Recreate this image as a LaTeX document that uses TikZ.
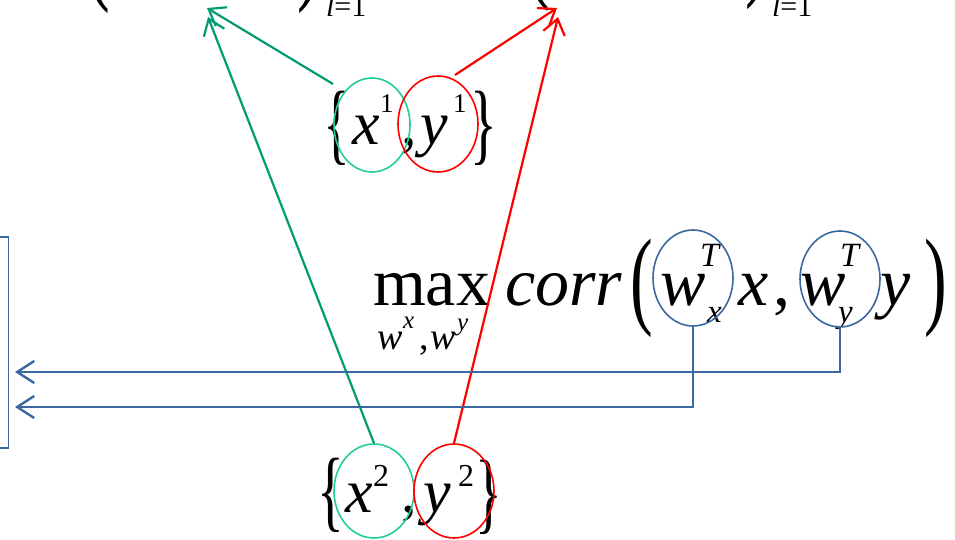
\documentclass[tikz,border=0pt]{standalone}
\usepackage{fontspec}
\setmainfont{Liberation Serif}
\usetikzlibrary{shapes.geometric,arrows.meta}
\definecolor{arrgreen}{RGB}{0,155,115}
\definecolor{ellgreen}{RGB}{35,205,150}
\definecolor{myred}{RGB}{255,0,0}
\definecolor{myblue}{RGB}{58,105,160}
\newcommand{\fs}[1]{\fontsize{#1}{#1}\selectfont}
\begin{document}
\begin{tikzpicture}[x=1pt,y=-1pt,
  txt/.style={inner sep=0pt, outer sep=0pt, anchor=base west},
  ell/.style={ellipse, draw, inner sep=0pt, line width=1.6pt},
  tipstyle/.style={-{Straight Barb[length=15pt,width=22pt]}},
  garrow/.style={draw=arrgreen, line width=2.2pt, tipstyle},
  rarrow/.style={draw=myred, line width=2.2pt, tipstyle},
  barrow/.style={draw=myblue, line width=2.4pt, -{Straight Barb[length=17pt,width=22pt]}}]
\useasboundingbox (0,0) rectangle (955,540);

% cropped formulas at the top edge
\node[txt, anchor=south, font=\fs{68}] (tl1) at (99,14) {\scalebox{1}[1.6]{(}};
\node[txt, anchor=south, font=\fs{68}] (tr1) at (309,14) {\scalebox{1}[1.6]{)}};
\node[txt, font=\fs{30}] (ts1) at (326,17) {\textit{l}=1};
\node[txt, anchor=south, font=\fs{68}] (tl2) at (539,12) {\scalebox{1}[1.6]{(}};
\node[txt, anchor=south, font=\fs{68}] (tr2) at (757,10) {\scalebox{1}[1.6]{)}};
\node[txt, font=\fs{30}] (ts2) at (772,17) {\textit{l}=1};

% left box
\node[draw=myblue, line width=1.5pt, minimum width=120pt, minimum height=211pt, anchor=north east, inner sep=0pt] (box) at (9,236) {};
\node[txt, anchor=base east, font=\fs{58}] (colon) at (4,304) {:};

% top pair
\node[txt, anchor=center, font=\fs{62}] (lb1) at (337,128) {\scalebox{0.9}[1.45]{\{}};
\node[txt, font={\fs{62}\itshape}] (x1) at (352,145) {x};
\node[txt, font=\fs{27}] (x1s) at (380,113) {1};
\node[txt, font=\fs{62}] (c1) at (401,145) {,};
\node[txt, font={\fs{62}\itshape}] (y1) at (420,145) {y};
\node[txt, font=\fs{27}] (y1s) at (453,113) {1};
\node[txt, anchor=center, font=\fs{62}] (rb1) at (484,128) {\scalebox{0.9}[1.45]{\}}};

% bottom pair
\node[txt, anchor=center, font=\fs{62}] (lb2) at (331,495) {\scalebox{0.9}[1.45]{\{}};
\node[txt, font={\fs{62}\itshape}] (x2) at (345,512) {x};
\node[txt, font=\fs{32}] (x2s) at (373,486) {2};
\node[txt, font=\fs{62}] (c3) at (401,512) {,};
\node[txt, font={\fs{62}\itshape}] (y2) at (423,512) {y};
\node[txt, font=\fs{32}] (y2s) at (458,486) {2};
\node[txt, anchor=center, font=\fs{62}] (rb2) at (489,497) {\scalebox{0.9}[1.45]{\}}};

% max corr formula
\node[txt, font=\fs{68}] (max) at (373,305) {max};
\node[txt, font={\fs{38}\itshape}] (sw1) at (377,349) {w};
\node[txt, font={\fs{25}\itshape}] (sx) at (403,328) {x};
\node[txt, font=\fs{38}] (sc) at (419,349) {,};
\node[txt, font={\fs{38}\itshape}] (sw2) at (430,349) {w};
\node[txt, font={\fs{25}\itshape}] (sy) at (457,330) {y};
\node[txt, font={\fs{68}\itshape}] (corr) at (505,305) {corr};
\node[txt, anchor=center, font=\fs{68}] (lp) at (642,288) {\scalebox{1}[1.6]{(}};
\node[txt, font={\fs{68}\itshape}] (w1) at (660,305) {w};
\node[txt, font={\fs{34}\itshape}] (T1) at (700,266) {T};
\node[txt, font={\fs{33}\itshape}] (xs) at (707,322) {x};
\node[txt, font={\fs{68}\itshape}] (xv) at (738,305) {x};
\node[txt, font=\fs{68}] (c2) at (773,305) {,};
\node[txt, font={\fs{68}\itshape}] (w2) at (800,305) {w};
\node[txt, font={\fs{34}\itshape}] (T2) at (840,266) {T};
\node[txt, font={\fs{33}\itshape}] (ys) at (838,322) {y};
\node[txt, font={\fs{68}\itshape}] (yv) at (880,305) {y};
\node[txt, anchor=center, font=\fs{68}] (rp) at (936,288) {\scalebox{1}[1.6]{)}};

% ellipses
\node[ell, ellgreen, minimum width=76pt, minimum height=94pt] (gE1) at (372,125) {};
\node[ell, myred, minimum width=80pt, minimum height=96pt] (rE1) at (438,124) {};
\node[ell, ellgreen, minimum width=80pt, minimum height=94pt] (gE2) at (374,491) {};
\node[ell, myred, minimum width=80pt, minimum height=94pt] (rE2) at (454,491) {};
\node[ell, myblue, minimum width=80pt, minimum height=96pt] (bE1) at (693,278) {};
\node[ell, myblue, minimum width=80pt, minimum height=96pt] (bE2) at (840,279) {};

% arrows
\coordinate (gs1) at (333,84);
\coordinate (gt1) at (207,8);
\coordinate (gt2) at (208,17);
\coordinate (rs1) at (455,75);
\coordinate (rt1) at (557,8);
\coordinate (rt2) at (558,17);
\draw[garrow] (gs1) -- (gt1);
\draw[garrow] (gE2.north) -- (gt2);
\draw[rarrow] (rs1) -- (rt1);
\draw[rarrow] (rE2.north) -- (rt2);

\coordinate (bt1) at (15,372);
\coordinate (bt2) at (15,407);
\draw[barrow] (bE2.south) |- (bt1);
\draw[barrow] (bE1.south) |- (bt2);
\end{tikzpicture}
\end{document}
